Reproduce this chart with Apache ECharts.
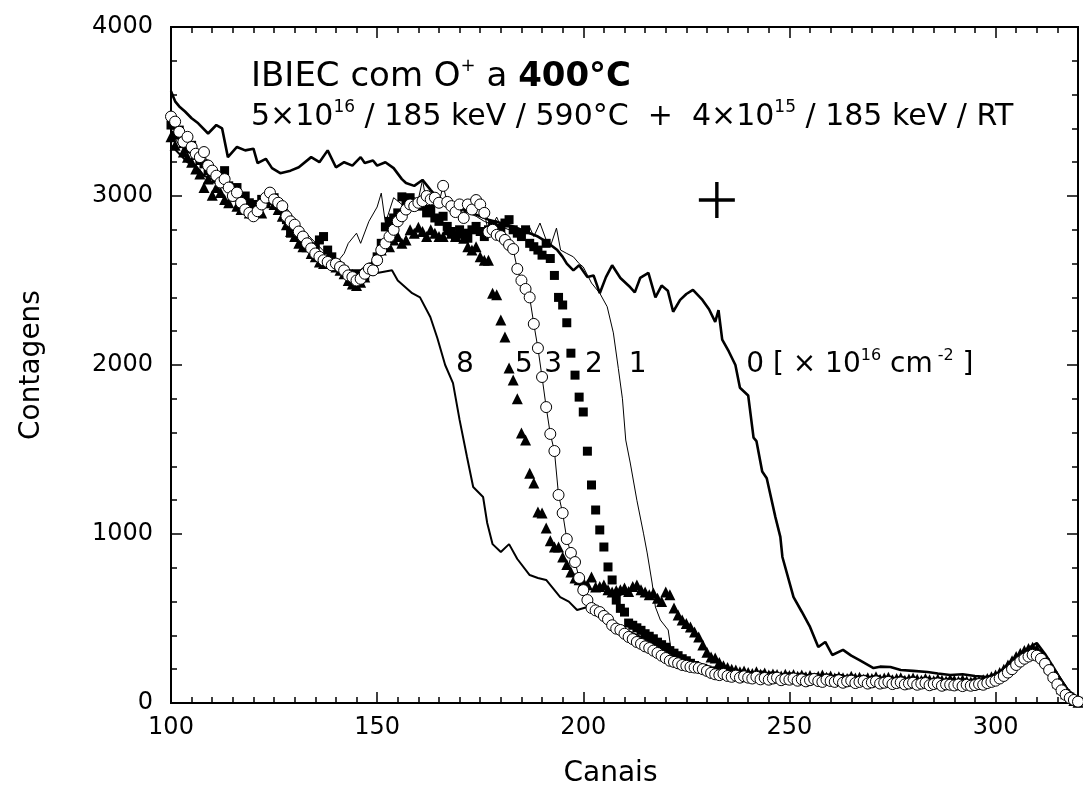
<!DOCTYPE html>
<html>
<head>
<meta charset="utf-8">
<script src="https://cdn.jsdelivr.net/npm/echarts@6/dist/echarts.min.js"></script>
<style>
  html, body { margin: 0; padding: 0; background: #ffffff; }
  #chart { width: 1083px; height: 802px; }
</style>
</head>
<body>
<div id="chart"></div>
<script>
// RBS spectra (counts per channel) after IBIEC with O+ at 400 °C, for several doses.

// Marker spectra: one count value per channel, starting at channel 100.
const FIRST_CHANNEL = 100;

// dose 2 ×10^16 cm^-2 (filled squares)
const dose2Counts = [
  3420, 3360, 3390, 3310, 3280, 3300, 3240, 3210, 3190, 3150,
  3140, 3100, 3120, 3150, 3060, 3030, 3050, 2990, 3000, 2960,
  2950, 2930, 2980, 2960, 3010, 2990, 2950, 2930, 2860, 2780,
  2790, 2760, 2740, 2720, 2700, 2690, 2740, 2760, 2680, 2640,
  2600, 2580, 2560, 2540, 2520, 2540, 2510, 2530, 2560, 2580,
  2640, 2720, 2817, 2850, 2870, 2900, 2995, 2960, 2990, 2950,
  2960, 2940, 2900, 2920, 2870, 2850, 2880, 2820, 2790, 2760,
  2800, 2780, 2750, 2800, 2820, 2790, 2760, 2800, 2830, 2780,
  2810, 2840, 2860, 2800, 2780, 2760, 2800, 2720, 2700, 2680,
  2650, 2720, 2630, 2530, 2400, 2355, 2250, 2070, 1940, 1810,
  1722, 1490, 1290, 1142, 1024, 923, 805, 728, 609, 560,
  538, 473, 460, 445, 430, 410, 395, 380, 360, 345,
  330, 310, 295, 280, 262, 250, 235, 222, 210, 205,
  195, 185, 190, 178, 170, 175, 165, 160, 170, 158,
  162, 150, 158, 165, 148, 155, 160, 145, 150, 140,
  155, 148, 140, 152, 145, 138, 150, 142, 135, 148,
  140, 132, 145, 138, 130, 142, 135, 128, 140, 132,
  125, 138, 130, 122, 135, 128, 120, 132, 125, 118,
  130, 122, 115, 128, 120, 112, 125, 118, 110, 122,
  115, 108, 120, 112, 105, 118, 110, 115, 120, 130,
  140, 155, 170, 190, 210, 235, 255, 270, 285, 295,
  290, 270, 240, 200, 160, 120, 85, 55, 35, 20,
  10
];

// dose 3 ×10^16 cm^-2 (open circles joined by a thin line)
const dose3Counts = [
  3470, 3440, 3380, 3320, 3350, 3290, 3250, 3230, 3260, 3180,
  3150, 3120, 3080, 3100, 3050, 3000, 3020, 2960, 2920, 2900,
  2880, 2910, 2950, 2990, 3020, 2980, 2960, 2940, 2880, 2850,
  2830, 2790, 2760, 2720, 2690, 2660, 2640, 2620, 2610, 2590,
  2600, 2580, 2560, 2530, 2520, 2500, 2510, 2540, 2570, 2560,
  2620, 2680, 2720, 2760, 2800, 2850, 2880, 2920, 2950, 2940,
  2960, 2970, 3000, 2980, 2990, 2960, 3060, 2965, 2940, 2905,
  2950, 2870, 2950, 2920, 2976, 2950, 2900, 2787, 2800, 2770,
  2763, 2740, 2710, 2686, 2568, 2500, 2450, 2400, 2243, 2100,
  1929, 1751, 1592, 1491, 1231, 1124, 970, 888, 834, 740,
  668, 609, 562, 548, 538, 515, 495, 460, 440, 432,
  410, 391, 378, 361, 350, 335, 325, 310, 296, 280,
  266, 250, 243, 235, 225, 220, 213, 210, 207, 200,
  190, 178, 170, 165, 172, 160, 155, 162, 150, 158,
  150, 145, 155, 140, 148, 138, 145, 150, 135, 142,
  138, 145, 132, 140, 128, 135, 142, 130, 125, 138,
  130, 125, 135, 120, 128, 132, 118, 125, 130, 115,
  122, 128, 115, 120, 125, 112, 118, 122, 110, 115,
  120, 108, 115, 118, 105, 112, 116, 102, 110, 108,
  104, 110, 100, 108, 102, 106, 112, 108, 118, 125,
  132, 145, 160, 180, 200, 225, 245, 262, 275, 285,
  280, 262, 232, 195, 150, 110, 75, 48, 30, 18,
  8
];

// dose 5 ×10^16 cm^-2 (filled triangles)
const dose5Counts = [
  3350, 3300, 3380, 3260, 3230, 3200, 3160, 3130, 3050, 3100,
  3005, 3050, 3020, 2980, 2960, 3000, 2940, 2920, 2950, 2900,
  2920, 2940, 2900, 2960, 2980, 2950, 2920, 2880, 2830, 2790,
  2760, 2720, 2700, 2700, 2660, 2640, 2610, 2600, 2630, 2620,
  2580, 2560, 2540, 2500, 2480, 2470, 2490, 2520, 2560, 2600,
  2640, 2680, 2720, 2700, 2740, 2760, 2720, 2740, 2800, 2780,
  2815, 2790, 2760, 2800, 2780, 2760, 2760, 2800, 2780, 2760,
  2780, 2750, 2700, 2680, 2700, 2640, 2620, 2620, 2425, 2415,
  2266, 2166, 1982, 1911, 1800, 1598, 1556, 1360, 1302, 1130,
  1124, 1036, 960, 923, 923, 864, 820, 775, 740, 730,
  716, 700, 746, 686, 690, 698, 670, 657, 665, 670,
  680, 660, 690, 698, 670, 657, 640, 651, 620, 600,
  657, 640, 562, 520, 491, 470, 450, 420, 391, 343,
  300, 272, 266, 240, 220, 210, 200, 195, 185, 190,
  180, 175, 185, 170, 178, 165, 172, 168, 160, 170,
  162, 168, 158, 165, 155, 162, 150, 158, 165, 152,
  160, 148, 155, 150, 145, 158, 148, 152, 140, 150,
  145, 155, 140, 148, 152, 138, 145, 150, 135, 142,
  148, 140, 135, 145, 138, 132, 142, 135, 130, 140,
  135, 128, 138, 130, 125, 135, 130, 138, 145, 155,
  165, 180, 200, 225, 250, 275, 295, 310, 322, 330,
  320, 295, 255, 210, 165, 120, 85, 55, 30, 15,
  5
];

// Line spectra as [channel, counts]
// dose 0 (reference, thick line)
const dose0Points = [
  [100, 3620], [101, 3560], [102, 3530], [103.4, 3500], [105, 3460], [106.6, 3430],
  [109, 3370], [111, 3420], [112.4, 3400], [113.8, 3230], [116, 3290], [118, 3270],
  [120, 3280], [121, 3195], [123, 3220], [124.5, 3165], [126.5, 3135], [129, 3150],
  [131, 3170], [134, 3230], [136, 3200], [138, 3270], [140, 3170], [142, 3200],
  [144, 3180], [146, 3230], [147, 3195], [149, 3210], [150, 3180], [152, 3200],
  [154, 3165], [156, 3100], [157, 3077], [159, 3060], [161, 3095], [163, 3035],
  [165, 2980], [168, 2950], [171, 2920], [174, 2890], [177, 2860], [180, 2840],
  [183, 2820], [186, 2790], [189, 2760], [191, 2730], [193.7, 2680], [195, 2640],
  [196, 2600], [197.6, 2560], [199, 2590], [201, 2520], [202.5, 2530], [204, 2425],
  [205.5, 2520], [207, 2590], [209, 2515], [211.4, 2460], [212.5, 2430], [213.8, 2515],
  [215.8, 2545], [217.5, 2400], [219, 2470], [220.5, 2440], [221.8, 2315], [223.5, 2385],
  [225, 2420], [226.6, 2445], [228.9, 2385], [230.5, 2330], [232, 2255], [232.8, 2325],
  [233.7, 2150], [235.3, 2080], [236.9, 2000], [238, 1865], [240, 1820], [241.3, 1570],
  [242, 1550], [243.4, 1370], [244.5, 1330], [246.6, 1100], [247.8, 983], [248.3, 864],
  [251, 627], [253, 540], [255, 450], [257, 331], [258.7, 361], [260.4, 284],
  [263, 314], [265, 280], [267, 254], [270.4, 207], [272, 215], [274.5, 213],
  [277, 195], [280, 190], [283.5, 183], [286, 175], [289, 166], [292, 170],
  [295, 160], [298, 154], [301, 180], [304, 254], [307, 310], [310, 355],
  [312, 290], [314, 213], [316, 130], [317.5, 77], [320, 30]
];

// dose 1 ×10^16 cm^-2 (thin line)
const dose1Points = [
  [100, 3380], [102, 3300], [104, 3260], [106, 3230], [108, 3160], [110, 3130],
  [112, 3070], [114, 3060], [116, 3020], [118, 2980], [120, 2950], [122, 2970],
  [124, 3000], [126, 2980], [128, 2930], [130, 2860], [132, 2800], [134, 2750],
  [136, 2700], [138, 2650], [140, 2600], [142, 2660], [143, 2720], [145, 2780],
  [146, 2720], [148, 2850], [150, 2935], [151, 3017], [152, 2840], [154, 2990],
  [156, 2950], [158, 3000], [160, 2980], [161, 3095], [162, 2960], [164, 3000],
  [166, 2970], [168, 2940], [170, 2920], [172, 2900], [174, 2880], [176, 2850],
  [178, 2830], [179, 2875], [180, 2820], [182, 2800], [184, 2780], [186, 2790],
  [187, 2815], [188, 2760], [189.5, 2840], [191, 2740], [192, 2700], [193.5, 2810],
  [194.5, 2680], [196, 2660], [197.6, 2640], [199, 2600], [200, 2580], [202, 2485],
  [204, 2425], [205.8, 2345], [207.3, 2190], [208.5, 1980], [209.5, 1800], [210.3, 1556],
  [211.4, 1420], [213, 1200], [214.6, 1005], [215.5, 888], [216.7, 710], [217.5, 568],
  [218.7, 491], [220.6, 432], [221.2, 331], [223, 290], [226, 250], [228, 230],
  [230, 215], [233, 200], [236, 185], [240, 175], [244, 168], [248, 160],
  [252, 165], [256, 150], [260, 155], [264, 145], [268, 150], [272, 138],
  [276, 145], [280, 130], [284, 140], [288, 125], [292, 132], [296, 120],
  [299, 130], [302, 175], [305, 235], [308, 300], [310, 320], [312, 280],
  [315, 180], [318, 70], [320, 15]
];

// dose 8 ×10^16 cm^-2 (medium line)
const dose8Points = [
  [100, 3300], [102, 3250], [104, 3200], [106, 3180], [108, 3120], [110, 3100],
  [112, 3060], [114, 3030], [116, 3000], [118, 2960], [120, 2940], [122, 2950],
  [124, 2980], [126, 2960], [128, 2900], [130, 2830], [132, 2780], [134, 2720],
  [136, 2670], [138, 2620], [140, 2590], [142, 2550], [144, 2520], [147, 2580],
  [150, 2545], [153.6, 2560], [155, 2500], [158.5, 2425], [160.4, 2400], [162.9, 2284],
  [164.6, 2160], [166.5, 2000], [168.4, 1893], [170, 1675], [171.8, 1456], [173.3, 1278],
  [175.7, 1219], [176.7, 1065], [178, 940], [180, 893], [182, 940], [184, 852],
  [187, 757], [189, 740], [191, 728], [194.4, 627], [196.5, 600], [198.5, 550],
  [201, 568], [203, 520], [205.8, 491], [209, 450], [212, 414], [215.5, 373],
  [218.7, 325], [221.8, 272], [225, 237], [229, 207], [233, 154], [236, 150],
  [240, 160], [244, 140], [248, 155], [252, 135], [256, 145], [260, 130],
  [264, 140], [268, 125], [272, 135], [276, 120], [280, 130], [284, 115],
  [288, 125], [292, 110], [296, 120], [299, 125], [302, 170], [305, 230],
  [308, 290], [310, 300], [312, 260], [315, 170], [318, 60], [320, 10]
];

// Curve labels (dose in units of 10^16 cm^-2)
const doseLabels = ['8', '5', '3', '2', '1'];
const unitLabel = '0';

// Axis ranges and tick labels
const channelRange = [100, 320];
const countRange = [0, 4000];
const xTickLabels = [100, 150, 200, 250, 300];
const yTickLabels = [0, 1000, 2000, 3000, 4000];

// ---------------------------------------------------------------------------
const FONT = 'DejaVu Sans';
const BLACK = '#000000';

const perChannel = arr => arr.map((v, i) => [FIRST_CHANNEL + i, v]);

// where the curve labels sit, in data coordinates (channel, counts)
const labelAnchors = [[171.3, 2000], [185.6, 2000], [192.7, 2000], [202.6, 2000], [213.2, 2000]];
const unitAnchor = [239.4, 2000];
const crossAnchor = [232.4, 2976];

const chart = echarts.init(document.getElementById('chart'), null, { renderer: 'canvas' });

function xAxisDef(position, interval, tickLen, withLabels) {
  return {
    type: 'value',
    position: position,
    min: channelRange[0],
    max: channelRange[1],
    interval: interval,
    splitLine: { show: false },
    axisLine: { show: withLabels !== null, onZero: false, lineStyle: { color: BLACK, width: 2 } },
    axisTick: { show: true, inside: true, length: tickLen, lineStyle: { color: BLACK, width: 1.5 } },
    axisLabel: withLabels ? {
      show: true, color: BLACK, fontFamily: FONT, fontSize: 24, margin: 13,
      formatter: v => (xTickLabels.indexOf(v) >= 0 ? String(v) : '')
    } : { show: false }
  };
}

function yAxisDef(position, withLabels) {
  return {
    type: 'value',
    position: position,
    min: countRange[0],
    max: countRange[1],
    interval: 1000,
    splitLine: { show: false },
    axisLine: { show: true, onZero: false, lineStyle: { color: BLACK, width: 2 } },
    axisTick: { show: true, inside: true, length: 11, lineStyle: { color: BLACK, width: 1.5 } },
    minorTick: { show: true, splitNumber: 5, length: 6, lineStyle: { color: BLACK, width: 1.5 } },
    axisLabel: withLabels ? {
      show: true, color: BLACK, fontFamily: FONT, fontSize: 24, margin: 18,
      formatter: v => (yTickLabels.indexOf(v) >= 0 ? String(v) : '')
    } : { show: false }
  };
}

const xBottom = xAxisDef('bottom', 50, 11, true);
xBottom.name = 'Canais';
xBottom.nameLocation = 'middle';
xBottom.nameGap = 57;
xBottom.nameTextStyle = { fontFamily: FONT, fontSize: 28, color: BLACK, padding: [0, 28, 0, 0] };

const yLeft = yAxisDef('left', true);
yLeft.name = 'Contagens';
yLeft.nameLocation = 'middle';
yLeft.nameGap = 125;
yLeft.nameRotate = 90;
yLeft.nameTextStyle = { fontFamily: FONT, fontSize: 28, color: BLACK };

const labelStyle = { fontFamily: FONT, fontSize: 28, color: BLACK, fontWeight: 'normal' };

const option = {
  backgroundColor: '#ffffff',
  animation: false,
  grid: { left: 171, right: 5, top: 27, bottom: 99, containLabel: false },
  title: [
    {
      left: 246, top: 52,
      text: '{t|IBIEC com O}{s|+}{t| a }{b|400°C}',
      textStyle: {
        fontWeight: 'normal',
        rich: {
          t: { fontFamily: FONT, fontSize: 34, fontWeight: 'normal', color: BLACK, lineHeight: 40 },
          s: { fontFamily: FONT, fontSize: 18, fontWeight: 'normal', color: BLACK, verticalAlign: 'top', lineHeight: 40 },
          b: { fontFamily: FONT, fontSize: 34, fontWeight: 'bold', color: BLACK, lineHeight: 40 }
        }
      }
    },
    {
      left: 246, top: 94,
      text: '{n|5×10}{s|16}{n| / 185 keV / 590°C  +  4×10}{s|15}{n| / 185 keV / RT}',
      textStyle: {
        fontWeight: 'normal',
        rich: {
          n: { fontFamily: FONT, fontSize: 30, fontWeight: 'normal', color: BLACK, lineHeight: 36 },
          s: { fontFamily: FONT, fontSize: 17, fontWeight: 'normal', color: BLACK, verticalAlign: 'top', lineHeight: 36 }
        }
      }
    }
  ],
  xAxis: [
    xBottom,
    xAxisDef('bottom', 5, 6, false),
    xAxisDef('top', 50, 11, false),
    xAxisDef('top', 5, 6, false)
  ],
  yAxis: [yLeft, yAxisDef('right', false)],
  series: [
    {
      name: 'dose 8', type: 'line', data: dose8Points, showSymbol: false,
      lineStyle: { color: BLACK, width: 2 }, z: 3
    },
    {
      name: 'dose 1', type: 'line', data: dose1Points, showSymbol: false,
      lineStyle: { color: BLACK, width: 1 }, z: 3
    },
    {
      name: 'dose 0', type: 'line', data: dose0Points, showSymbol: false,
      lineStyle: { color: BLACK, width: 2.6 }, z: 3
    },
    {
      name: 'dose 2', type: 'scatter', data: perChannel(dose2Counts),
      symbol: 'rect', symbolSize: 9, itemStyle: { color: BLACK, opacity: 1 }, z: 4
    },
    {
      name: 'dose 5', type: 'scatter', data: perChannel(dose5Counts),
      symbol: 'triangle', symbolSize: 11, itemStyle: { color: BLACK, opacity: 1 }, z: 4
    },
    {
      name: 'dose 3', type: 'line', data: perChannel(dose3Counts),
      symbol: 'circle', symbolSize: 11, showSymbol: true, showAllSymbol: true,
      lineStyle: { color: BLACK, width: 1 },
      itemStyle: { color: '#ffffff', borderColor: BLACK, borderWidth: 1, opacity: 1 }, z: 5
    },
    {
      name: 'labels', type: 'scatter', symbolSize: 1, silent: true,
      itemStyle: { color: 'rgba(0,0,0,0)', opacity: 1 }, z: 6,
      data: doseLabels.map((t, i) => ({
        value: labelAnchors[i],
        label: { show: true, position: 'inside', formatter: t, ...labelStyle }
      })).concat([{
        value: unitAnchor,
        label: {
          show: true, position: 'right', distance: 0,
          formatter: '{n|' + unitLabel + ' [ × 10}{s|16}{n| cm}{s| -2}{n| ]}',
          rich: {
            n: { fontFamily: FONT, fontSize: 28, color: BLACK, lineHeight: 34 },
            s: { fontFamily: FONT, fontSize: 16, color: BLACK, verticalAlign: 'top', lineHeight: 34 }
          }
        }
      }])
    },
    {
      name: 'cross', type: 'scatter', silent: true, z: 6,
      symbol: 'path://M-1.7,-18H1.7V-1.7H18V1.7H1.7V18H-1.7V1.7H-18V-1.7H-1.7Z',
      symbolSize: 36, itemStyle: { color: BLACK, opacity: 1 },
      data: [crossAnchor]
    }
  ]
};

chart.setOption(option);
</script>
</body>
</html>
